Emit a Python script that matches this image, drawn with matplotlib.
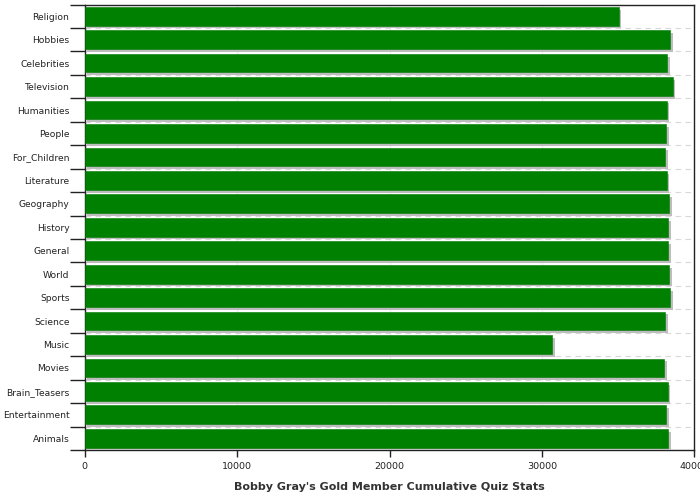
import numpy as np
import matplotlib
matplotlib.use("Agg")
import matplotlib.pyplot as plt
import matplotlib.patheffects as pe

# categories top -> bottom
categories = ["Religion", "Hobbies", "Celebrities", "Television", "Humanities",
              "People", "For_Children", "Literature", "Geography", "History",
              "General", "World", "Sports", "Science", "Music", "Movies",
              "Brain_Teasers", "Entertainment", "Animals"]
scores = [35030, 38420, 38200, 38570, 38180,
          38160, 38100, 38180, 38360, 38290,
          38290, 38360, 38420, 38100, 30670, 38030,
          38245, 38160, 38290]

xticks = [0, 10000, 20000, 30000, 40000]

fig = plt.figure(figsize=(7, 5), dpi=100)
ax = fig.add_axes([0.121, 0.1, 0.871, 0.891])

n = len(categories)
ypos = np.arange(n)[::-1]

bars = ax.barh(ypos, scores, height=0.8, color="#008000",
               edgecolor="#007800", linewidth=0.4, zorder=3)
for b in bars:
    b.set_path_effects([pe.SimplePatchShadow(offset=(2, -2), shadow_rgbFace="#bdbdbd", alpha=1.0),
                        pe.Normal()])

ax.set_xlim(0, 40000)
ax.set_ylim(-0.5, n - 0.5)

# labels at bar centres, tick marks on the boundaries
ax.set_yticks(ypos)
ax.set_yticklabels(categories, fontsize=6.6, color="#222222")
ax.tick_params(axis="y", which="major", length=0, pad=11)
ax.set_yticks(np.arange(n + 1) - 0.5, minor=True)
ax.tick_params(axis="y", which="minor", length=11, width=1, color="#222222", direction="out")

ax.set_xticks(xticks)
ax.set_xticklabels([str(v) for v in xticks], fontsize=6.8, color="#222222")
ax.tick_params(axis="x", length=5, width=1, color="#222222")

ax.grid(axis="y", which="minor", linestyle=(0, (5, 4)), color="#d8d8d8", linewidth=0.8, zorder=0)
ax.grid(axis="x", which="major", linestyle="-", color="#eeeeee", linewidth=0.8, zorder=0)

for s in ax.spines.values():
    s.set_color("#222222")
    s.set_linewidth(1)

ax.set_xlabel("Bobby Gray's Gold Member Cumulative Quiz Stats", fontsize=8,
              fontweight="bold", color="#333333", labelpad=8)

fig.savefig("out.png", dpi=100)
